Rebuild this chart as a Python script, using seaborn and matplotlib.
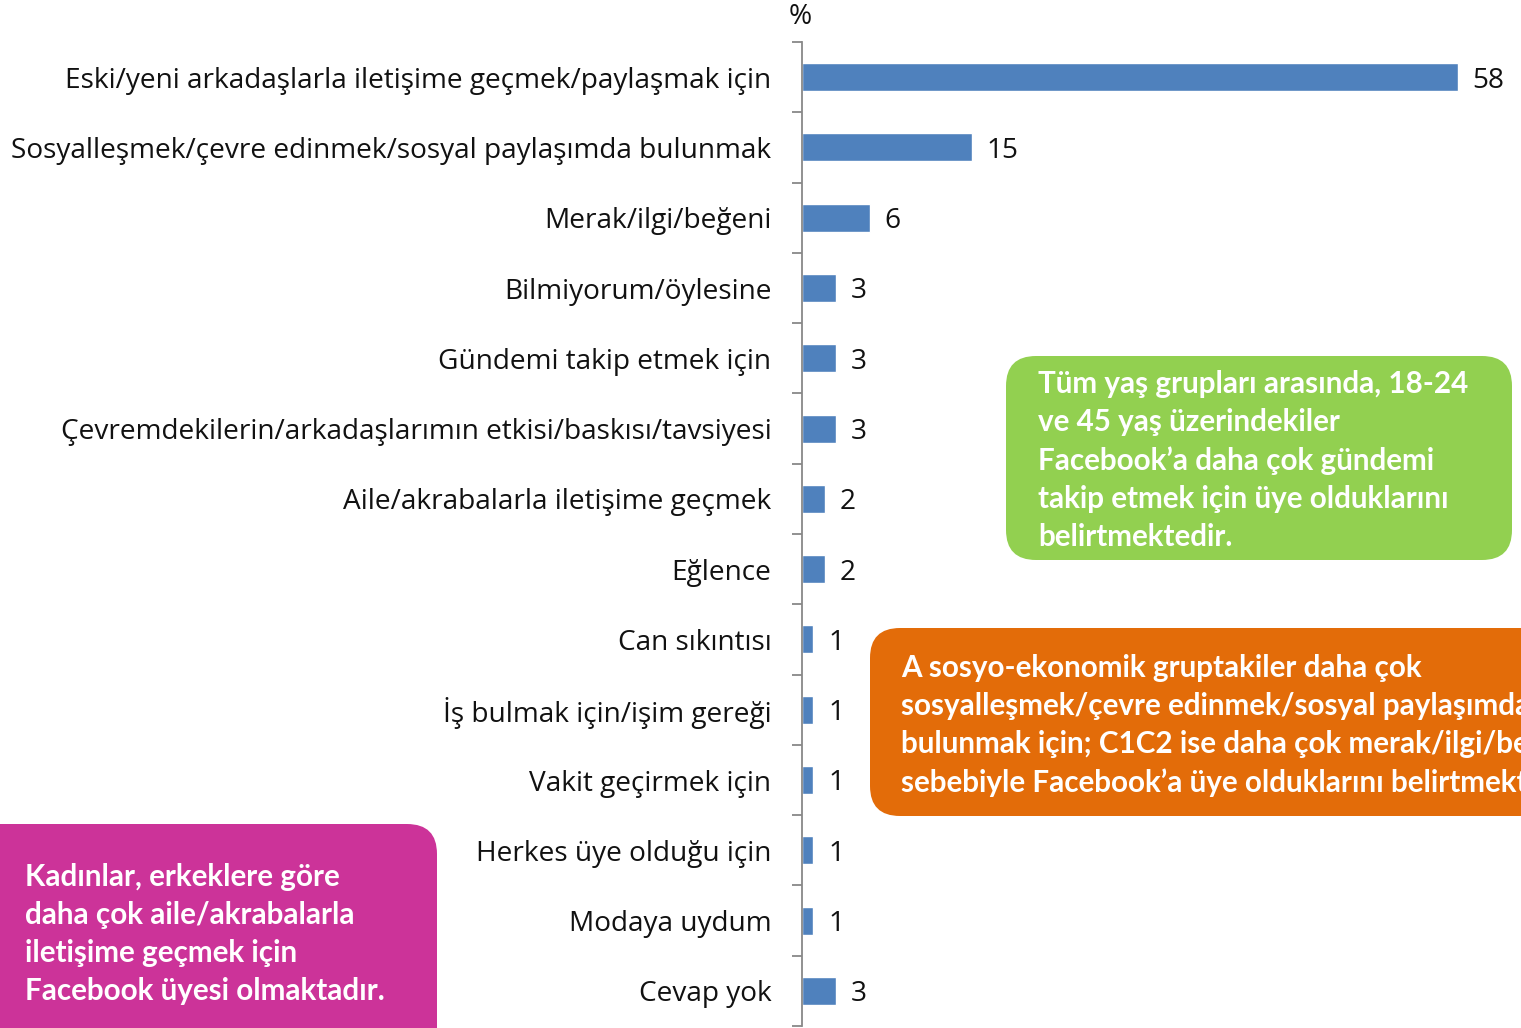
import numpy as np
import pandas as pd
import matplotlib
matplotlib.use("Agg")
import matplotlib.pyplot as plt
from matplotlib.patches import FancyBboxPatch
from matplotlib.ticker import FixedLocator
import seaborn as sns

sns.set_style("white")
plt.rcParams['font.family'] = ['Open Sans', 'DejaVu Sans']

# chart data
reasons = [
    "Eski/yeni arkadaşlarla iletişime geçmek/paylaşmak için",
    "Sosyalleşmek/çevre edinmek/sosyal paylaşımda bulunmak",
    "Merak/ilgi/beğeni",
    "Bilmiyorum/öylesine",
    "Gündemi takip etmek için",
    "Çevremdekilerin/arkadaşlarımın etkisi/baskısı/tavsiyesi",
    "Aile/akrabalarla iletişime geçmek",
    "Eğlence",
    "Can sıkıntısı",
    "İş bulmak için/işim gereği",
    "Vakit geçirmek için",
    "Herkes üye olduğu için",
    "Modaya uydum",
    "Cevap yok",
]
percent = [58, 15, 6, 3, 3, 3, 2, 2, 1, 1, 1, 1, 1, 3]

note_green = ("Tüm yaş grupları arasında, 18-24\nve 45 yaş üzerindekiler\n"
              "Facebook’a daha çok gündemi\ntakip etmek için üye olduklarını\nbelirtmektedir.")
note_orange = ("A sosyo-ekonomik gruptakiler daha çok\n"
               "sosyalleşmek/çevre edinmek/sosyal paylaşımda\n"
               "bulunmak için; C1C2 ise daha çok merak/ilgi/beğeni\n"
               "sebebiyle Facebook’a üye olduklarını belirtmektedir.")
note_pink = ("Kadınlar, erkeklere göre\ndaha çok aile/akrabalarla\n"
             "iletişime geçmek için\nFacebook üyesi olmaktadır.")

df = pd.DataFrame({"reason": reasons, "percent": percent})

W, H = 1521, 1028
fig = plt.figure(figsize=(W / 100, H / 100), dpi=100)
ax = fig.add_axes([802 / W, 2 / H, 1 - 802 / W, 984 / H])

sns.barplot(data=df, y="reason", x="percent", orient="h", color="#4F81BD",
            saturation=1, width=0.4, ax=ax)
ax.set_xlim(0, (W - 802) / 11.31)
ax.set_ylim(len(reasons) - 0.5, -0.5)
ax.set_xlabel("")
ax.set_ylabel("")
ax.set_xticks([])

for s in ["top", "right", "bottom"]:
    ax.spines[s].set_visible(False)
ax.spines["left"].set_color("#888888")
ax.spines["left"].set_linewidth(1.3)

lab_fs = 20.2
ax.yaxis.set_minor_locator(FixedLocator(np.arange(-0.5, len(reasons), 1)))
ax.tick_params(axis="y", which="major", length=0, pad=22, labelsize=lab_fs, labelcolor="#111111")
ax.tick_params(axis="y", which="minor", length=7, width=1.3, color="#888888", left=True)

for i, v in enumerate(percent):
    ax.text(v + 1.3, i, str(v), va="center_baseline", ha="left", fontsize=lab_fs, color="#111111")

fig.text(800 / W, 1 - 17 / H, "%", ha="center", va="center", fontsize=lab_fs, color="#111111")

# callout boxes, positioned in pixel-based inches
def callout(x0, y0, x1, y1, color, text, tx, ty):
    box = FancyBboxPatch((x0 / 100, (H - y1) / 100), (x1 - x0) / 100, (y1 - y0) / 100,
                         boxstyle="round,pad=0,rounding_size=0.3",
                         transform=fig.dpi_scale_trans, facecolor=color,
                         edgecolor="none", zorder=5)
    fig.patches.append(box)
    fig.text(tx / 100, (H - ty) / 100, text, transform=fig.dpi_scale_trans,
             ha="left", va="top", color="white", fontsize=21.3, fontweight="bold",
             family=["Lato", "DejaVu Sans"], linespacing=1.44, zorder=6)

callout(1006, 356, 1512, 560, "#92D050", note_green, 1038, 370)
callout(870, 628, 1600, 816, "#E36C09", note_orange, 901, 654)
callout(-40, 824, 437, 1100, "#CC3399", note_pink, 25, 863)

fig.savefig("out.png", dpi=100)
